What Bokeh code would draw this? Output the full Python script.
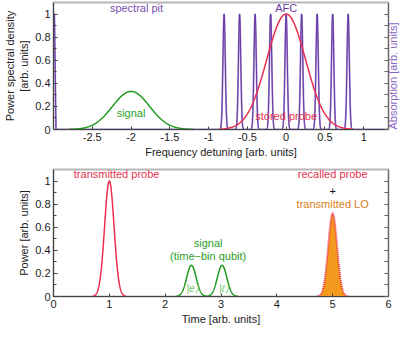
import math
import numpy as np
from bokeh.plotting import figure
from bokeh.models import FixedTicker, LinearAxis, Range1d
from bokeh.layouts import column
from bokeh.embed import file_html
from bokeh.resources import INLINE
from bokeh.core.properties import value

FONT = "Liberation Sans"

# ---------------- top panel: spectra ----------------
freq_range = (-3.0, 1.32)
psd_range = (0.0, 1.1)
freq_ticks = [-2.5, -2.0, -1.5, -1.0, -0.5, 0.0, 0.5, 1.0]
freq_tick_labels = ["-2.5", "-2", "-1.5", "-1", "-0.5", "0", "0.5", "1"]
level_ticks = [0.0, 0.2, 0.4, 0.6, 0.8, 1.0]
level_tick_labels = ["0", "0.2", "0.4", "0.6", "0.8", "1"]
level_minor = [0.1, 0.3, 0.5, 0.7, 0.9]

# Gaussian peaks: centre, height, width, drawn span
sig_spec = dict(center=-2.0, height=0.33, width=0.24, span=(-2.8, -1.2))
probe_spec = dict(center=0.0, height=1.0, width=0.25, span=(-0.86, 0.86))
afc_centers = [-0.8, -0.6, -0.4, -0.2, 0.0, 0.2, 0.4, 0.6, 0.8]
afc_heights = [1.0, 1.0, 1.0, 1.0, 1.0, 1.0, 1.0, 1.0, 1.0]
afc_width = 0.015
pit_x = [-3.0, -2.988, -2.968, 1.32]
pit_y = [1.0, 1.0, 0.0, 0.0]

top_labels = ["spectral pit", "AFC", "signal", "stored probe"]
top_label_x = [-1.93, 0.0, -2.0, 0.0]
top_label_y = [1.055, 1.055, 0.14, 0.12]
top_label_colors = ["#7a52b0", "#6a3ea8", "#2aa02a", "#e8334f"]
right_label = "Absorption [arb. units]"

# ---------------- bottom panel: time traces ----------------
time_range = (0.0, 6.0)
power_range = (0.0, 1.1)
time_ticks = [0, 1, 2, 3, 4, 5, 6]
time_tick_labels = ["0", "1", "2", "3", "4", "5", "6"]

trans_spec = dict(center=1.0, height=1.0, width=0.085, span=(0.7, 1.3))
qubit_centers = [2.47, 3.02]
qubit_heights = [0.27, 0.27]
qubit_width = 0.085
qubit_span = (2.2, 3.3)
recall_spec = dict(center=5.0, height=0.72, width=0.08, span=(4.72, 5.28))

bot_labels = ["transmitted probe", "signal", "(time\u2212bin qubit)",
              "recalled probe", "+", "transmitted LO"]
bot_label_x = [1.13, 2.77, 2.77, 5.0, 5.0, 5.0]
bot_label_y = [1.06, 0.46, 0.35, 1.06, 0.915, 0.80]
bot_label_colors = ["#e8334f", "#2aa02a", "#2aa02a", "#e8334f", "#111111", "#d9801a"]
ket_labels = ["|e\u27e9", "|\u2113\u27e9"]
ket_x = [2.49, 3.05]
ket_y = [0.07, 0.07]

PURPLE_D = "#5b2a96"
PURPLE_L = "#a88fd4"
GREEN = "#1f9a1f"
RED = "#ea2e4e"
ORANGE = "#f39a1e"


def gauss(x, c, h, w):
    return h * np.exp(-((x - c) ** 2) / (2 * w * w))


def peak(spec, n=300):
    x = np.linspace(spec["span"][0], spec["span"][1], n)
    return x, gauss(x, spec["center"], spec["height"], spec["width"])


def style_axis(ax, color="#444444"):
    ax.axis_line_color = color
    ax.axis_line_width = 1
    ax.major_tick_line_color = color
    ax.minor_tick_line_color = color
    ax.major_tick_in = 4
    ax.major_tick_out = 0
    ax.minor_tick_in = 3
    ax.minor_tick_out = 0
    ax.major_label_text_font = FONT
    ax.major_label_text_font_size = "11px"
    ax.major_label_text_color = "#222222"
    ax.major_label_standoff = 3
    ax.axis_label_text_font = FONT
    ax.axis_label_text_font_size = "11px"
    ax.axis_label_text_font_style = "normal"
    ax.axis_label_text_color = "#222222"
    ax.axis_label_standoff = 2


def make_fig(height, xr, yr, top_border):
    p = figure(width=407, height=height, x_range=Range1d(*xr), y_range=Range1d(*yr),
               output_backend="svg", toolbar_location=None,
               min_border_left=46, min_border_right=16, min_border_top=top_border,
               min_border_bottom=0)
    p.xgrid.visible = False
    p.ygrid.visible = False
    p.outline_line_color = "#b8b8b8"
    p.outline_line_width = 2
    return p


def add_right_axis(p, label=None, color="#222222"):
    ax = LinearAxis()
    all_ticks = sorted(level_ticks + level_minor)
    ax.ticker = FixedTicker(ticks=all_ticks)
    style_axis(ax, "#666666")
    ax.major_label_overrides = {t: "" for t in all_ticks}
    ax.major_label_standoff = 0
    if label:
        ax.axis_label = label
        ax.axis_label_text_color = color
        ax.axis_label_orientation = math.pi / 2
        ax.axis_label_align = "start"
        ax.axis_label_standoff = 4
    p.add_layout(ax, "right")


# ---------- top figure ----------
p1 = make_fig(160, freq_range, psd_range, 2)
style_axis(p1.xaxis[0])
style_axis(p1.yaxis[0])
p1.xaxis[0].ticker = FixedTicker(ticks=freq_ticks)
p1.xaxis[0].major_label_overrides = dict(zip(freq_ticks, freq_tick_labels))
p1.xaxis[0].major_tick_in = 3
p1.xaxis[0].axis_label = "Frequency detuning [arb. units]"
p1.yaxis[0].ticker = FixedTicker(ticks=level_ticks, minor_ticks=level_minor)
p1.yaxis[0].major_label_overrides = dict(zip(level_ticks, level_tick_labels))
p1.yaxis[0].axis_label = "Power spectral density\n[arb. units]"
add_right_axis(p1, right_label, "#8a68c2")

xs = np.linspace(freq_range[0], freq_range[1], 6000)
absorb = np.interp(xs, pit_x, pit_y)
for c, h in zip(afc_centers, afc_heights):
    absorb = absorb + gauss(xs, c, h, afc_width)
p1.line(xs, absorb, line_color=PURPLE_L, line_width=1.8)
p1.line(xs, absorb, line_color=PURPLE_D, line_width=0.9)

sx, sy = peak(sig_spec)
p1.line(sx, sy, line_color=GREEN, line_width=1.5)
px, py = peak(probe_spec)
p1.line(px, py, line_color=RED, line_width=1.5)

p1.text(x=top_label_x, y=top_label_y, text=top_labels, text_color=top_label_colors,
        text_font=value(FONT), text_font_size="11px", text_align="center",
        text_baseline="middle")

# ---------- bottom figure ----------
p2 = make_fig(167, time_range, power_range, 9)
style_axis(p2.xaxis[0])
style_axis(p2.yaxis[0])
p2.xaxis[0].ticker = FixedTicker(ticks=time_ticks)
p2.xaxis[0].major_label_overrides = dict(zip(time_ticks, time_tick_labels))
p2.xaxis[0].major_tick_in = 3
p2.xaxis[0].axis_label = "Time [arb. units]"
p2.yaxis[0].ticker = FixedTicker(ticks=level_ticks, minor_ticks=level_minor)
p2.yaxis[0].major_label_overrides = dict(zip(level_ticks, level_tick_labels))
p2.yaxis[0].axis_label = "Power [arb. units]"
add_right_axis(p2)

tx, ty = peak(trans_spec)
p2.line(tx, ty, line_color=RED, line_width=1.5)

qx = np.linspace(qubit_span[0], qubit_span[1], 400)
qy = np.zeros_like(qx)
for c, h in zip(qubit_centers, qubit_heights):
    qy = qy + gauss(qx, c, h, qubit_width)
p2.line(qx, qy, line_color=GREEN, line_width=1.5)

rx, ry = peak(recall_spec)
p2.varea(x=rx, y1=np.zeros_like(ry), y2=ry, fill_color=ORANGE)
p2.line(rx, ry, line_color=RED, line_width=2, line_dash="1 1")

p2.text(x=bot_label_x, y=bot_label_y, text=bot_labels, text_color=bot_label_colors,
        text_font=value(FONT), text_font_size="11px", text_align="center",
        text_baseline="middle")
p2.text(x=ket_x, y=ket_y, text=ket_labels, text_color="#6cc86c",
        text_font=value(FONT), text_font_size="10px", text_font_style="italic",
        text_align="center", text_baseline="middle")

layout = column(p1, p2, spacing=0)
open("out.html", "w").write(file_html(layout, INLINE))
